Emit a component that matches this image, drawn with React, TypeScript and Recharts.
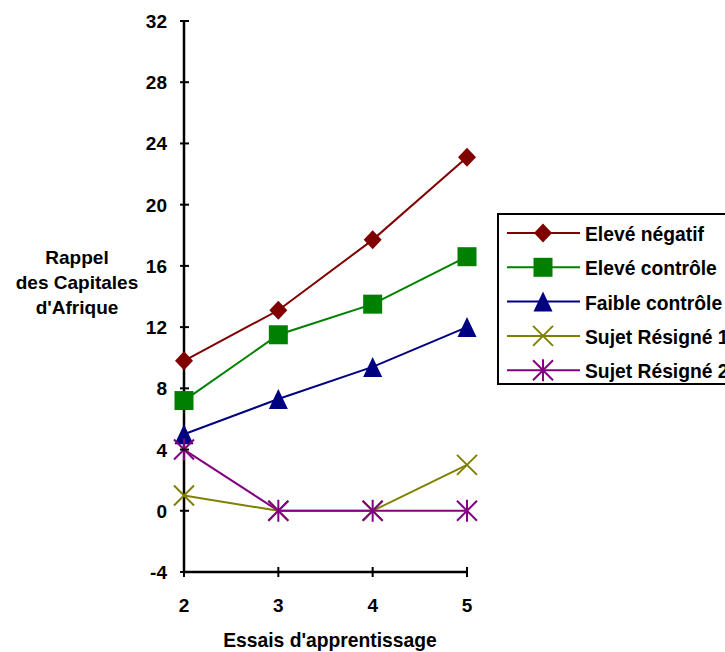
import React from 'react';
import { LineChart, Line, XAxis, YAxis, Legend, Label } from 'recharts';

// ---- data ----
const trials = [2, 3, 4, 5];
const yTicks = [-4, 0, 4, 8, 12, 16, 20, 24, 28, 32];
const eleveNegatif = [9.8, 13.1, 17.7, 23.1];
const eleveControle = [7.2, 11.5, 13.5, 16.6];
const faibleControle = [5.0, 7.3, 9.4, 12.0];
const sujetResigne1 = [1, 0, 0, 3];
const sujetResigne2 = [4, 0, 0, 0];
const seriesNames = ['Elevé négatif', 'Elevé contrôle', 'Faible contrôle', 'Sujet Résigné 1', 'Sujet Résigné 2'];
const xTitle = "Essais d'apprentissage";
const yTitleLines = ['Rappel', 'des Capitales', "d'Afrique"];

const data = trials.map((t, i) => ({
  trial: t,
  s0: eleveNegatif[i],
  s1: eleveControle[i],
  s2: faibleControle[i],
  s3: sujetResigne1[i],
  s4: sujetResigne2[i],
}));

const seriesDefs = [
  { key: 's0', color: '#800000', shape: 'diamond' },
  { key: 's1', color: '#008000', shape: 'square' },
  { key: 's2', color: '#000080', shape: 'triangle' },
  { key: 's3', color: '#808000', shape: 'x' },
  { key: 's4', color: '#800080', shape: 'star' },
];

const FONT = '"Liberation Sans", Arial, sans-serif';
const FS = 19;
const FS_LEG = 19.3;
const FS_XT = 19.3;

function Marker({ shape, cx, cy, color }: { shape: string; cx: number; cy: number; color: string }) {
  switch (shape) {
    case 'diamond':
      return <polygon points={`${cx},${cy - 9.5} ${cx + 9},${cy} ${cx},${cy + 9.5} ${cx - 9},${cy}`} fill={color} />;
    case 'square':
      return <rect x={cx - 9.5} y={cy - 9.5} width={19} height={19} fill={color} />;
    case 'triangle':
      return <polygon points={`${cx},${cy - 10} ${cx + 9.5},${cy + 10} ${cx - 9.5},${cy + 10}`} fill={color} />;
    case 'x':
      return (
        <g stroke={color} strokeWidth={2}>
          <line x1={cx - 10} y1={cy - 10} x2={cx + 10} y2={cy + 10} />
          <line x1={cx - 10} y1={cy + 10} x2={cx + 10} y2={cy - 10} />
        </g>
      );
    case 'star':
    default:
      return (
        <g stroke={color} strokeWidth={2}>
          <line x1={cx - 10} y1={cy - 10} x2={cx + 10} y2={cy + 10} />
          <line x1={cx - 10} y1={cy + 10} x2={cx + 10} y2={cy - 10} />
          <line x1={cx} y1={cy - 11} x2={cx} y2={cy + 11} />
        </g>
      );
  }
}

const YTick = (props: any) => {
  const { x, y, payload } = props;
  return (
    <g>
      <line x1={x - 4} x2={x + 5} y1={y} y2={y} stroke="#000" strokeWidth={2} />
      <text x={x - 17} y={y + 7} textAnchor="end" fontFamily={FONT} fontWeight="bold" fontSize={FS} fill="#000">
        {payload.value}
      </text>
    </g>
  );
};

const XTick = (props: any) => {
  const { x, y, payload } = props;
  return (
    <g>
      <line x1={x} x2={x} y1={y - 5} y2={y + 5} stroke="#000" strokeWidth={2} />
      <text x={x} y={y + 40} textAnchor="middle" fontFamily={FONT} fontWeight="bold" fontSize={FS} fill="#000">
        {payload.value}
      </text>
    </g>
  );
};

const renderLegend = (props: any) => {
  const raw = props.payload || [];
  const order = seriesDefs.map((d) => d.key);
  const payload = [...raw].sort((a: any, b: any) => order.indexOf(a.dataKey) - order.indexOf(b.dataKey));
  return (
    <div style={{ border: '2px solid #000', background: '#fff', width: 262, height: 172, boxSizing: 'border-box' }}>
      <svg width={258} height={168} style={{ display: 'block' }}>
        {payload.map((entry: any, i: number) => {
          const def = seriesDefs.find((d) => d.key === entry.dataKey) || seriesDefs[i];
          const cy = 18 + i * 34.3;
          return (
            <g key={`leg-${i}`}>
              <line x1={8} x2={81} y1={cy} y2={cy} stroke={def.color} strokeWidth={2} />
              <Marker shape={def.shape} cx={44} cy={cy} color={def.color} />
              <text x={86} y={cy + 8} fontFamily={FONT} fontWeight="bold" fontSize={FS_LEG} fill="#000">
                {entry.value}
              </text>
            </g>
          );
        })}
      </svg>
    </div>
  );
};

export default function App() {
  return (
    <div style={{ position: 'fixed', left: 0, top: 0, width: 725, height: 652, overflow: 'hidden', background: '#fff' }}>
      <div style={{ position: 'absolute', left: 8, top: 8 }}>
        <LineChart width={760} height={644} data={data} margin={{ top: 13, right: 301, bottom: 50, left: 116 }}>
          <XAxis
            dataKey="trial"
            type="number"
            domain={[2, 5]}
            ticks={trials}
            allowDecimals={false}
            height={30}
            axisLine={{ stroke: '#000', strokeWidth: 2.5 }}
            tickLine={false}
            tickSize={0}
            tickMargin={0}
            tick={<XTick />}
            interval={0}
          >
            <Label
              content={(p: any) => {
                const vb = p.viewBox || { x: 176, y: 564, width: 283 };
                return (
                  <text x={vb.x + vb.width / 2 + 4.5} y={vb.y + 75} textAnchor="middle" fontFamily={FONT} fontWeight="bold" fontSize={FS_XT} fill="#000">
                    {xTitle}
                  </text>
                );
              }}
            />
          </XAxis>
          <YAxis
            type="number"
            domain={[-4, 32]}
            ticks={yTicks}
            width={60}
            axisLine={{ stroke: '#000', strokeWidth: 2.5 }}
            tickLine={false}
            tickSize={0}
            tickMargin={0}
            tick={<YTick />}
            interval={0}
          >
            <Label
              content={(p: any) => {
                const vb = p.viewBox || { x: 116, y: 13, width: 60, height: 551 };
                const cx = vb.x + vb.width - 107;
                const mid = vb.y + vb.height / 2;
                return (
                  <text textAnchor="middle" fontFamily={FONT} fontWeight="bold" fontSize={FS} fill="#000">
                    {yTitleLines.map((t, i) => (
                      <tspan key={i} x={cx} y={mid - 33 + i * 25.4}>
                        {t}
                      </tspan>
                    ))}
                  </text>
                );
              }}
            />
          </YAxis>
          <Legend
            layout="vertical"
            align="center"
            verticalAlign="middle"
            itemSorter={null as any}
            content={renderLegend}
            wrapperStyle={{ left: 489, top: 205, width: 'auto', height: 'auto' }}
          />
          {seriesDefs.map((d, i) => (
            <Line
              key={d.key}
              dataKey={d.key}
              name={seriesNames[i]}
              type="linear"
              stroke={d.color}
              strokeWidth={2}
              isAnimationActive={false}
              dot={(p: any) => (
                <g key={`${d.key}-dot-${p.index}`}>
                  <Marker shape={d.shape} cx={p.cx} cy={p.cy} color={d.color} />
                </g>
              )}
              activeDot={false}
            />
          ))}
        </LineChart>
      </div>
    </div>
  );
}
